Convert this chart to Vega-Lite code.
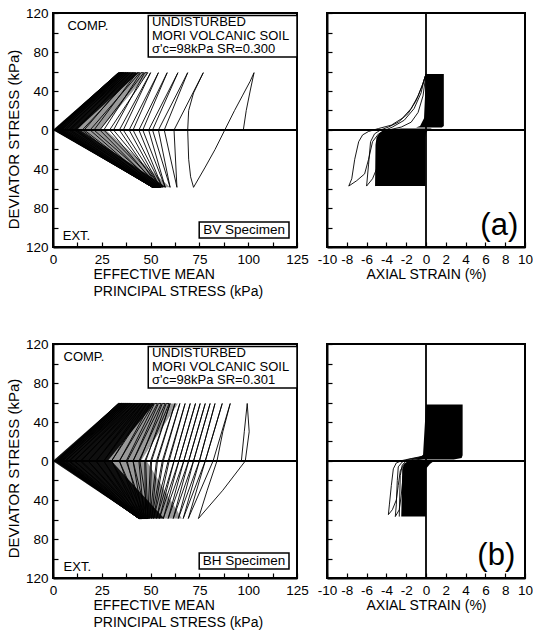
{
  "$schema": "https://vega.github.io/schema/vega-lite/v6.json",
  "padding": {"left": 5, "top": 5, "right": 0, "bottom": 0},
  "background": "white",
  "config": {
    "view": {"stroke": "black", "strokeWidth": 2},
    "font": "Liberation Sans",
    "axis": {
      "grid": false, "domainColor": "black", "domainWidth": 2,
      "tickColor": "black", "tickWidth": 1.2, "tickSize": -5,
      "labelPadding": 10, "labelFont": "Liberation Sans", "labelFontSize": 13.5, "labelColor": "black",
      "titleFont": "Liberation Sans", "titleFontSize": 14, "titleFontWeight": "normal", "titleColor": "black",
      "labelOverlap": false, "labelFlush": false
    }
  },
  "datasets": {
    "coreA": [
      {"g": "u", "q": 0, "lo": 0, "hi": 12}, {"g": "u", "q": 58.8, "lo": 33.5, "hi": 44},
      {"g": "l", "q": -58.8, "lo": 51, "hi": 58}, {"g": "l", "q": 0, "lo": 0, "hi": 14}
    ],
    "haloA": [
      {"g": "u", "q": 0, "lo": 0, "hi": 24}, {"g": "u", "q": 58.8, "lo": 33.5, "hi": 49},
      {"g": "l", "q": -58.8, "lo": 51, "hi": 60}, {"g": "l", "q": 0, "lo": 0, "hi": 27}
    ],
    "coreB": [
      {"g": "u", "q": 0, "lo": 0, "hi": 28}, {"g": "u", "q": 59, "lo": 33.5, "hi": 52},
      {"g": "l", "q": -59, "lo": 44, "hi": 57}, {"g": "l", "q": 0, "lo": 0, "hi": 30}
    ],
    "haloB": [
      {"g": "u", "q": 0, "lo": 0, "hi": 45}, {"g": "u", "q": 59, "lo": 33.5, "hi": 64},
      {"g": "l", "q": -59, "lo": 44, "hi": 66}, {"g": "l", "q": 0, "lo": 0, "hi": 48}
    ],
    "pathA": [
      {"p":97.5,"q":0},{"p":99,"q":20},{"p":101,"q":40},{"p":103,"q":58.8},
      {"p":101,"q":50},{"p":97,"q":35},{"p":93,"q":20},{"p":88,"q":0},{"p":83,"q":-20},{"p":78,"q":-38},{"p":72,"q":-58.8},
      {"p":70.5,"q":-48},{"p":69.5,"q":-30},{"p":69,"q":0},{"p":69.5,"q":20},{"p":72,"q":38},{"p":77,"q":58.8},
      {"p":62,"q":0},{"p":63.5,"q":-58.8},{"p":57,"q":0},{"p":69,"q":58.8},
      {"p":54,"q":0},{"p":60,"q":-58.8},{"p":51,"q":0},{"p":64,"q":58.8},
      {"p":49,"q":0},{"p":57.5,"q":-58.8},{"p":46,"q":0},{"p":58.5,"q":58.8},
      {"p":44,"q":0},{"p":56,"q":-58.8},{"p":41,"q":0},{"p":54,"q":58.8},
      {"p":39,"q":0},{"p":55,"q":-58.8},{"p":36,"q":0},{"p":50,"q":58.8},
      {"p":34,"q":0},{"p":54,"q":-58.8},{"p":55.5,"q":-58.8},{"p":31,"q":0},{"p":47,"q":58.8},{"p":48.5,"q":58.8},
      {"p":29,"q":0},{"p":53.5,"q":-58.8},{"p":55,"q":-58.8},{"p":26,"q":0},{"p":45,"q":58.8},{"p":46.5,"q":58.8},
      {"p":24,"q":0},{"p":53,"q":-58.8},{"p":54.5,"q":-58.8},{"p":21,"q":0},{"p":43,"q":58.8},{"p":44.5,"q":58.8},
      {"p":19,"q":0},{"p":52.5,"q":-58.8},{"p":54,"q":-58.8},{"p":16,"q":0},{"p":41,"q":58.8},{"p":42.5,"q":58.8},
      {"p":15,"q":0},{"p":52,"q":-58.8},{"p":53.5,"q":-58.8},{"p":12,"q":0},{"p":39.5,"q":58.8},{"p":41,"q":58.8},
      {"p":11,"q":0},{"p":52,"q":-58.8},{"p":53.5,"q":-58.8},{"p":9,"q":0},{"p":38,"q":58.8},{"p":39.5,"q":58.8},
      {"p":8,"q":0},{"p":51.5,"q":-58.8},{"p":53,"q":-58.8},{"p":6.5,"q":0},{"p":37,"q":58.8},{"p":38.5,"q":58.8},
      {"p":5.5,"q":0},{"p":51.5,"q":-58.8},{"p":53,"q":-58.8},{"p":4.5,"q":0},{"p":36,"q":58.8},{"p":37.5,"q":58.8},
      {"p":4,"q":0},{"p":51,"q":-58.8},{"p":52.5,"q":-58.8},{"p":3.5,"q":0},{"p":35,"q":58.8},{"p":36.5,"q":58.8},
      {"p":3,"q":0},{"p":51,"q":-58.8},{"p":52.5,"q":-58.8},{"p":2.5,"q":0},{"p":34.5,"q":58.8},{"p":36,"q":58.8},
      {"p":2,"q":0},{"p":51,"q":-58.8},{"p":52.5,"q":-58.8},{"p":1.5,"q":0},{"p":34,"q":58.8},{"p":35.5,"q":58.8},
      {"p":1.5,"q":0},{"p":51,"q":-58.8},{"p":52.5,"q":-58.8},{"p":1,"q":0},{"p":33.5,"q":58.8},{"p":35,"q":58.8},
      {"p":1,"q":0},{"p":51,"q":-58.8},{"p":52,"q":-58.8},{"p":0.8,"q":0},{"p":33.5,"q":58.8}
    ],
    "pathB": [
      {"p":96.5,"q":0},{"p":98,"q":30},{"p":99.5,"q":59},{"p":100.5,"q":30},{"p":98.5,"q":0},{"p":87,"q":-30},{"p":74.5,"q":-59},
      {"p":79,"q":-30},{"p":84,"q":0},{"p":87,"q":30},{"p":90.8,"q":59},
      {"p":82,"q":0},{"p":69.3,"q":-59},{"p":78,"q":0},{"p":86.7,"q":59},
      {"p":78,"q":0},{"p":66.7,"q":-59},{"p":75,"q":0},{"p":83,"q":59},
      {"p":75,"q":0},{"p":64.2,"q":-59},{"p":72,"q":0},{"p":80.5,"q":59},
      {"p":72,"q":0},{"p":61.6,"q":-59},{"p":69.5,"q":0},{"p":78,"q":59},
      {"p":69.5,"q":0},{"p":59,"q":-59},{"p":67,"q":0},{"p":75.4,"q":59},
      {"p":67,"q":0},{"p":56.5,"q":-59},{"p":64.5,"q":0},{"p":73,"q":59},
      {"p":64.5,"q":0},{"p":54.5,"q":-59},{"p":62,"q":0},{"p":70.3,"q":59},
      {"p":62,"q":0},{"p":53,"q":-59},{"p":59.5,"q":0},{"p":67.7,"q":59},
      {"p":59,"q":0},{"p":51.5,"q":-59},{"p":56.5,"q":0},{"p":65,"q":59},
      {"p":56,"q":0},{"p":50.5,"q":-59},{"p":53.5,"q":0},{"p":62.5,"q":59},
      {"p":53,"q":0},{"p":49.5,"q":-59},{"p":50.5,"q":0},{"p":60,"q":59},
      {"p":50,"q":0},{"p":48.5,"q":-59},{"p":47.5,"q":0},{"p":58,"q":59},{"p":59.5,"q":59},
      {"p":47,"q":0},{"p":47.5,"q":-59},{"p":49,"q":-59},{"p":44.5,"q":0},{"p":56,"q":59},{"p":57.5,"q":59},
      {"p":44,"q":0},{"p":46.7,"q":-59},{"p":48.2,"q":-59},{"p":41,"q":0},{"p":54,"q":59},{"p":55.5,"q":59},
      {"p":41,"q":0},{"p":46,"q":-59},{"p":47.5,"q":-59},{"p":37.5,"q":0},{"p":52,"q":59},{"p":53.5,"q":59},
      {"p":38,"q":0},{"p":45.5,"q":-59},{"p":47,"q":-59},{"p":34,"q":0},{"p":50,"q":59},{"p":51.5,"q":59},
      {"p":34,"q":0},{"p":45,"q":-59},{"p":46.5,"q":-59},{"p":30,"q":0},{"p":48,"q":59},{"p":49.5,"q":59},
      {"p":30,"q":0},{"p":44.5,"q":-59},{"p":46,"q":-59},{"p":26,"q":0},{"p":46.5,"q":59},{"p":48,"q":59},
      {"p":26,"q":0},{"p":44.2,"q":-59},{"p":45.7,"q":-59},{"p":22,"q":0},{"p":45,"q":59},{"p":46.5,"q":59},
      {"p":22,"q":0},{"p":44,"q":-59},{"p":45.5,"q":-59},{"p":18,"q":0},{"p":43.5,"q":59},{"p":45,"q":59},
      {"p":18,"q":0},{"p":44,"q":-59},{"p":45.5,"q":-59},{"p":14.5,"q":0},{"p":42,"q":59},{"p":43.5,"q":59},
      {"p":14,"q":0},{"p":44,"q":-59},{"p":45.5,"q":-59},{"p":11,"q":0},{"p":40.5,"q":59},{"p":42,"q":59},
      {"p":11,"q":0},{"p":44,"q":-59},{"p":45.5,"q":-59},{"p":8.5,"q":0},{"p":39,"q":59},{"p":40.5,"q":59},
      {"p":8,"q":0},{"p":44,"q":-59},{"p":45.5,"q":-59},{"p":6.5,"q":0},{"p":38,"q":59},{"p":39.5,"q":59},
      {"p":6,"q":0},{"p":44,"q":-59},{"p":45.5,"q":-59},{"p":5,"q":0},{"p":37,"q":59},{"p":38.5,"q":59},
      {"p":4.5,"q":0},{"p":44,"q":-59},{"p":45.5,"q":-59},{"p":4,"q":0},{"p":36,"q":59},{"p":37.5,"q":59},
      {"p":3.5,"q":0},{"p":44,"q":-59},{"p":45.5,"q":-59},{"p":3,"q":0},{"p":35,"q":59},{"p":36.5,"q":59},
      {"p":2.5,"q":0},{"p":44,"q":-59},{"p":45.5,"q":-59},{"p":2.5,"q":0},{"p":34,"q":59},{"p":35.5,"q":59},
      {"p":2,"q":0},{"p":44,"q":-59},{"p":45.5,"q":-59},{"p":2,"q":0},{"p":33.5,"q":59},{"p":35,"q":59},
      {"p":1.5,"q":0},{"p":44,"q":-59},{"p":45,"q":-59},{"p":1.5,"q":0},{"p":33.5,"q":59}
    ],
    "blkA": [
      {"g":"u","q":2.5,"lo":-1.0,"hi":1.6},{"g":"u","q":4,"lo":-0.6,"hi":1.8},{"g":"u","q":12,"lo":-0.2,"hi":1.8},{"g":"u","q":57.5,"lo":0,"hi":1.8},
      {"g":"l","q":-57.5,"lo":-5.1,"hi":-0.05},{"g":"l","q":-15,"lo":-5.1,"hi":-0.05},{"g":"l","q":-8,"lo":-5.0,"hi":-0.05},{"g":"l","q":-3,"lo":-4.7,"hi":0},{"g":"l","q":0,"lo":-4.3,"hi":0.2},{"g":"l","q":1.5,"lo":-2.5,"hi":0.6}
    ],
    "blkB": [
      {"g":"u","q":1.5,"lo":-1.5,"hi":2.8},{"g":"u","q":3,"lo":-0.8,"hi":3.6},{"g":"u","q":6,"lo":-0.3,"hi":3.7},{"g":"u","q":58,"lo":0,"hi":3.7},
      {"g":"l","q":-57,"lo":-2.5,"hi":0},{"g":"l","q":-8,"lo":-2.4,"hi":0},{"g":"l","q":-3,"lo":-2.2,"hi":0.4},{"g":"l","q":0,"lo":-1.8,"hi":0.8}
    ],
    "ssA": [
      {"g":1,"s":0,"q":57.5},{"g":1,"s":-0.3,"q":48},{"g":1,"s":-0.8,"q":35},{"g":1,"s":-1.5,"q":22},{"g":1,"s":-2.4,"q":12},{"g":1,"s":-3.5,"q":5},{"g":1,"s":-4.8,"q":1.5},{"g":1,"s":-5.8,"q":-1.5},{"g":1,"s":-6.4,"q":-5},{"g":1,"s":-6.8,"q":-12},{"g":1,"s":-7.2,"q":-30},{"g":1,"s":-7.5,"q":-50},{"g":1,"s":-7.8,"q":-57.5},{"g":1,"s":-7.0,"q":-52},{"g":1,"s":-6.2,"q":-45},{"g":1,"s":-5.8,"q":-30},{"g":1,"s":-5.4,"q":-12},{"g":1,"s":-4.8,"q":-4},{"g":1,"s":-3.8,"q":0},{"g":1,"s":-2.5,"q":3},{"g":1,"s":-1.5,"q":8},{"g":1,"s":-0.8,"q":18},{"g":1,"s":-0.3,"q":35},{"g":1,"s":0,"q":57.5},
      {"g":2,"s":0,"q":57.5},{"g":2,"s":-0.4,"q":45},{"g":2,"s":-1.0,"q":30},{"g":2,"s":-1.8,"q":17},{"g":2,"s":-2.8,"q":8},{"g":2,"s":-3.8,"q":3},{"g":2,"s":-4.6,"q":0},{"g":2,"s":-5.2,"q":-4},{"g":2,"s":-5.6,"q":-12},{"g":2,"s":-5.8,"q":-35},{"g":2,"s":-6.0,"q":-57.5},{"g":2,"s":-5.4,"q":-50},{"g":2,"s":-5.0,"q":-40},{"g":2,"s":-4.9,"q":-20},
      {"g":3,"s":-0.1,"q":55},{"g":3,"s":-0.5,"q":38},{"g":3,"s":-1.2,"q":22},{"g":3,"s":-2.2,"q":10},{"g":3,"s":-3.4,"q":3},{"g":3,"s":-4.3,"q":-1},{"g":3,"s":-4.8,"q":-6},{"g":3,"s":-5.0,"q":-15},{"g":3,"s":-5.1,"q":-57.5}
    ],
    "ssB": [
      {"g":1,"s":0.2,"q":8},{"g":1,"s":-0.5,"q":4.5},{"g":1,"s":-1.5,"q":2.5},{"g":1,"s":-2.4,"q":0.5},{"g":1,"s":-3.0,"q":-2},{"g":1,"s":-3.3,"q":-8},{"g":1,"s":-3.5,"q":-25},{"g":1,"s":-3.7,"q":-45},{"g":1,"s":-3.8,"q":-55},{"g":1,"s":-3.4,"q":-50},{"g":1,"s":-3.0,"q":-40},{"g":1,"s":-2.8,"q":-25},{"g":1,"s":-2.6,"q":-10},{"g":1,"s":-2.2,"q":-3},{"g":1,"s":-1.4,"q":0.5},{"g":1,"s":-0.5,"q":2},{"g":1,"s":0.3,"q":4},
      {"g":2,"s":0.1,"q":6},{"g":2,"s":-0.8,"q":3.5},{"g":2,"s":-1.8,"q":1.5},{"g":2,"s":-2.4,"q":-1},{"g":2,"s":-2.8,"q":-6},{"g":2,"s":-2.9,"q":-20},{"g":2,"s":-3.0,"q":-45},{"g":2,"s":-3.1,"q":-57},{"g":2,"s":-2.7,"q":-50},{"g":2,"s":-2.5,"q":-35},{"g":2,"s":-2.3,"q":-15},
      {"g":3,"s":0,"q":5},{"g":3,"s":-1.0,"q":2.5},{"g":3,"s":-2.0,"q":0},{"g":3,"s":-2.4,"q":-4},{"g":3,"s":-2.6,"q":-15},{"g":3,"s":-2.7,"q":-57}
    ]
  },
  "vconcat": [
    {
      "hconcat": [
        {
          "width": 244, "height": 234,
          "layer": [
            {
              "data": {"name": "haloA"},
              "mark": {"type": "area", "orient": "horizontal", "color": "black", "opacity": 0.4},
              "encoding": {
                "y": {"field": "q", "type": "quantitative", "scale": {"domain": [-120, 120], "nice": false, "zero": false},
                  "axis": {"values": [-120,-100,-80,-60,-40,-20,0,20,40,60,80,100,120], "tickCount": 100, "labelExpr": "datum.value % 40 == 0 ? format(abs(datum.value), 'd') : ''", "labelOverlap": false, "labelFlush": false, "title": "DEVIATOR STRESS (kPa)", "titleFontSize": 15, "titlePadding": 4, "titleY": 126}},
                "x": {"field": "lo", "type": "quantitative", "scale": {"domain": [0, 125], "nice": false, "zero": false},
                  "axis": {"values": [0,12.5,25,37.5,50,62.5,75,87.5,100,112.5,125], "tickCount": 100, "labelExpr": "datum.value % 25 == 0 ? format(datum.value, 'd') : ''", "labelOverlap": false, "labelFlush": false, "title": ["EFFECTIVE MEAN", "PRINCIPAL STRESS (kPa)"], "titleAnchor": "start", "titleAlign": "left", "titleX": 40, "titleY": 27.5, "titleBaseline": "middle", "titleLineHeight": 17}},
                "x2": {"field": "hi"},
                "detail": {"field": "g"}
              }
            },
            {
              "data": {"name": "coreA"},
              "mark": {"type": "area", "orient": "horizontal", "color": "black", "opacity": 0.9},
              "encoding": {
                "y": {"field": "q", "type": "quantitative", "scale": {"domain": [-120, 120], "nice": false, "zero": false}},
                "x": {"field": "lo", "type": "quantitative", "scale": {"domain": [0, 125], "nice": false, "zero": false}},
                "x2": {"field": "hi"},
                "detail": {"field": "g"}
              }
            },
            {
              "data": {"name": "pathA"},
              "mark": {"type": "line", "color": "black", "strokeWidth": 0.9},
              "encoding": {
                "x": {"field": "p", "type": "quantitative", "scale": {"domain": [0, 125], "nice": false, "zero": false}},
                "y": {"field": "q", "type": "quantitative", "scale": {"domain": [-120, 120], "nice": false, "zero": false}},
                "order": {"value": null}
              }
            },
            {
              "data": {"values": [{}]},
              "mark": {"type": "rule", "color": "black", "strokeWidth": 2},
              "encoding": {"y": {"datum": 0, "type": "quantitative", "scale": {"domain": [-120, 120], "nice": false, "zero": false}}}
            },
            {
              "data": {"values": [{"x1": 48.8, "x2": 125, "y1": 75, "y2": 117.5}, {"x1": 74.9, "x2": 120.9, "y1": -94.4, "y2": -110.8}]},
              "mark": {"type": "rect", "fill": "white", "stroke": "black", "strokeWidth": 1.5},
              "encoding": {
                "x": {"field": "x1", "type": "quantitative", "scale": {"domain": [0, 125], "nice": false, "zero": false}},
                "x2": {"field": "x2"},
                "y": {"field": "y1", "type": "quantitative", "scale": {"domain": [-120, 120], "nice": false, "zero": false}},
                "y2": {"field": "y2"}
              }
            },
            {
              "data": {"values": [
                {"p": 7.4, "q": 107, "t": "COMP."},
                {"p": 5, "q": -108.5, "t": "EXT."},
                {"p": 50.7, "q": 110.3, "t": "UNDISTURBED"},
                {"p": 50.7, "q": 96.6, "t": "MORI VOLCANIC SOIL"},
                {"p": 50.7, "q": 83, "t": "σ'c=98kPa SR=0.300"}
              ]},
              "mark": {"type": "text", "align": "left", "baseline": "middle", "fontSize": 13, "font": "Liberation Sans", "color": "black"},
              "encoding": {
                "x": {"field": "p", "type": "quantitative", "scale": {"domain": [0, 125], "nice": false, "zero": false}},
                "y": {"field": "q", "type": "quantitative", "scale": {"domain": [-120, 120], "nice": false, "zero": false}},
                "text": {"field": "t"}
              }
            },
            {
              "data": {"values": [{"p": 97.9, "q": -102.6, "t": "BV Specimen"}]},
              "mark": {"type": "text", "align": "center", "baseline": "middle", "fontSize": 13.5, "font": "Liberation Sans", "color": "black"},
              "encoding": {
                "x": {"field": "p", "type": "quantitative", "scale": {"domain": [0, 125], "nice": false, "zero": false}},
                "y": {"field": "q", "type": "quantitative", "scale": {"domain": [-120, 120], "nice": false, "zero": false}},
                "text": {"field": "t"}
              }
            }
          ]
        },
        {
          "width": 198, "height": 234,
          "layer": [
            {
              "data": {"name": "blkA"},
              "mark": {"type": "area", "orient": "horizontal", "color": "black"},
              "encoding": {
                "y": {"field": "q", "type": "quantitative", "scale": {"domain": [-120, 120], "nice": false, "zero": false},
                  "axis": {"values": [-120,-100,-80,-60,-40,-20,0,20,40,60,80,100,120], "tickCount": 100, "labels": false, "title": ""}},
                "x": {"field": "lo", "type": "quantitative", "scale": {"domain": [-10, 10], "nice": false, "zero": false},
                  "axis": {"values": [-10,-8,-6,-4,-2,0,2,4,6,8,10], "tickCount": 100, "labelExpr": "'' + datum.value", "labelOverlap": false, "labelFlush": false, "title": "AXIAL STRAIN (%)", "titleY": 27.5, "titleBaseline": "middle"}},
                "x2": {"field": "hi"},
                "detail": {"field": "g"}
              }
            },
            {
              "data": {"name": "ssA"},
              "mark": {"type": "line", "color": "black", "strokeWidth": 0.9},
              "encoding": {
                "x": {"field": "s", "type": "quantitative", "scale": {"domain": [-10, 10], "nice": false, "zero": false}},
                "y": {"field": "q", "type": "quantitative", "scale": {"domain": [-120, 120], "nice": false, "zero": false}},
                "detail": {"field": "g"},
                "order": {"value": null}
              }
            },
            {
              "data": {"values": [{}]},
              "mark": {"type": "rule", "color": "black", "strokeWidth": 1.8},
              "encoding": {"y": {"datum": 0, "type": "quantitative", "scale": {"domain": [-120, 120], "nice": false, "zero": false}}}
            },
            {
              "data": {"values": [{}]},
              "mark": {"type": "rule", "color": "black", "strokeWidth": 1.8},
              "encoding": {"x": {"datum": 0, "type": "quantitative", "scale": {"domain": [-10, 10], "nice": false, "zero": false}}}
            },
            {
              "data": {"values": [{"s": 7.4, "q": -98.5, "t": "(a)"}]},
              "mark": {"type": "text", "align": "center", "baseline": "middle", "fontSize": 31, "font": "Liberation Sans", "color": "black"},
              "encoding": {
                "x": {"field": "s", "type": "quantitative", "scale": {"domain": [-10, 10], "nice": false, "zero": false}},
                "y": {"field": "q", "type": "quantitative", "scale": {"domain": [-120, 120], "nice": false, "zero": false}},
                "text": {"field": "t"}
              }
            }
          ]
        }
      ],
      "spacing": 30,
      "bounds": "flush"
    },
    {
      "hconcat": [
        {
          "width": 244, "height": 234,
          "layer": [
            {
              "data": {"name": "haloB"},
              "mark": {"type": "area", "orient": "horizontal", "color": "black", "opacity": 0.4},
              "encoding": {
                "y": {"field": "q", "type": "quantitative", "scale": {"domain": [-120, 120], "nice": false, "zero": false},
                  "axis": {"values": [-120,-100,-80,-60,-40,-20,0,20,40,60,80,100,120], "tickCount": 100, "labelExpr": "datum.value % 40 == 0 ? format(abs(datum.value), 'd') : ''", "labelOverlap": false, "labelFlush": false, "title": "DEVIATOR STRESS (kPa)", "titleFontSize": 15, "titlePadding": 4, "titleY": 124}},
                "x": {"field": "lo", "type": "quantitative", "scale": {"domain": [0, 125], "nice": false, "zero": false},
                  "axis": {"values": [0,12.5,25,37.5,50,62.5,75,87.5,100,112.5,125], "tickCount": 100, "labelExpr": "datum.value % 25 == 0 ? format(datum.value, 'd') : ''", "labelOverlap": false, "labelFlush": false, "title": ["EFFECTIVE MEAN", "PRINCIPAL STRESS (kPa)"], "titleAnchor": "start", "titleAlign": "left", "titleX": 40, "titleY": 27.5, "titleBaseline": "middle", "titleLineHeight": 17}},
                "x2": {"field": "hi"},
                "detail": {"field": "g"}
              }
            },
            {
              "data": {"name": "coreB"},
              "mark": {"type": "area", "orient": "horizontal", "color": "black", "opacity": 0.9},
              "encoding": {
                "y": {"field": "q", "type": "quantitative", "scale": {"domain": [-120, 120], "nice": false, "zero": false}},
                "x": {"field": "lo", "type": "quantitative", "scale": {"domain": [0, 125], "nice": false, "zero": false}},
                "x2": {"field": "hi"},
                "detail": {"field": "g"}
              }
            },
            {
              "data": {"name": "pathB"},
              "mark": {"type": "line", "color": "black", "strokeWidth": 0.9},
              "encoding": {
                "x": {"field": "p", "type": "quantitative", "scale": {"domain": [0, 125], "nice": false, "zero": false}},
                "y": {"field": "q", "type": "quantitative", "scale": {"domain": [-120, 120], "nice": false, "zero": false}},
                "order": {"value": null}
              }
            },
            {
              "data": {"values": [{}]},
              "mark": {"type": "rule", "color": "black", "strokeWidth": 2},
              "encoding": {"y": {"datum": 0, "type": "quantitative", "scale": {"domain": [-120, 120], "nice": false, "zero": false}}}
            },
            {
              "data": {"values": [{"x1": 48.8, "x2": 125, "y1": 75, "y2": 117.5}, {"x1": 74.9, "x2": 120.9, "y1": -94.4, "y2": -110.8}]},
              "mark": {"type": "rect", "fill": "white", "stroke": "black", "strokeWidth": 1.5},
              "encoding": {
                "x": {"field": "x1", "type": "quantitative", "scale": {"domain": [0, 125], "nice": false, "zero": false}},
                "x2": {"field": "x2"},
                "y": {"field": "y1", "type": "quantitative", "scale": {"domain": [-120, 120], "nice": false, "zero": false}},
                "y2": {"field": "y2"}
              }
            },
            {
              "data": {"values": [
                {"p": 5.4, "q": 107, "t": "COMP."},
                {"p": 5.4, "q": -108.5, "t": "EXT."},
                {"p": 50.7, "q": 110.3, "t": "UNDISTURBED"},
                {"p": 50.7, "q": 96.6, "t": "MORI VOLCANIC SOIL"},
                {"p": 50.7, "q": 83, "t": "σ'c=98kPa SR=0.301"}
              ]},
              "mark": {"type": "text", "align": "left", "baseline": "middle", "fontSize": 13, "font": "Liberation Sans", "color": "black"},
              "encoding": {
                "x": {"field": "p", "type": "quantitative", "scale": {"domain": [0, 125], "nice": false, "zero": false}},
                "y": {"field": "q", "type": "quantitative", "scale": {"domain": [-120, 120], "nice": false, "zero": false}},
                "text": {"field": "t"}
              }
            },
            {
              "data": {"values": [{"p": 97.9, "q": -102.6, "t": "BH Specimen"}]},
              "mark": {"type": "text", "align": "center", "baseline": "middle", "fontSize": 13.5, "font": "Liberation Sans", "color": "black"},
              "encoding": {
                "x": {"field": "p", "type": "quantitative", "scale": {"domain": [0, 125], "nice": false, "zero": false}},
                "y": {"field": "q", "type": "quantitative", "scale": {"domain": [-120, 120], "nice": false, "zero": false}},
                "text": {"field": "t"}
              }
            }
          ]
        },
        {
          "width": 198, "height": 234,
          "layer": [
            {
              "data": {"name": "blkB"},
              "mark": {"type": "area", "orient": "horizontal", "color": "black"},
              "encoding": {
                "y": {"field": "q", "type": "quantitative", "scale": {"domain": [-120, 120], "nice": false, "zero": false},
                  "axis": {"values": [-120,-100,-80,-60,-40,-20,0,20,40,60,80,100,120], "tickCount": 100, "labels": false, "title": ""}},
                "x": {"field": "lo", "type": "quantitative", "scale": {"domain": [-10, 10], "nice": false, "zero": false},
                  "axis": {"values": [-10,-8,-6,-4,-2,0,2,4,6,8,10], "tickCount": 100, "labelExpr": "'' + datum.value", "labelOverlap": false, "labelFlush": false, "title": "AXIAL STRAIN (%)", "titleY": 27.5, "titleBaseline": "middle"}},
                "x2": {"field": "hi"},
                "detail": {"field": "g"}
              }
            },
            {
              "data": {"name": "ssB"},
              "mark": {"type": "line", "color": "black", "strokeWidth": 0.9},
              "encoding": {
                "x": {"field": "s", "type": "quantitative", "scale": {"domain": [-10, 10], "nice": false, "zero": false}},
                "y": {"field": "q", "type": "quantitative", "scale": {"domain": [-120, 120], "nice": false, "zero": false}},
                "detail": {"field": "g"},
                "order": {"value": null}
              }
            },
            {
              "data": {"values": [{}]},
              "mark": {"type": "rule", "color": "black", "strokeWidth": 1.8},
              "encoding": {"y": {"datum": 0, "type": "quantitative", "scale": {"domain": [-120, 120], "nice": false, "zero": false}}}
            },
            {
              "data": {"values": [{}]},
              "mark": {"type": "rule", "color": "black", "strokeWidth": 1.8},
              "encoding": {"x": {"datum": 0, "type": "quantitative", "scale": {"domain": [-10, 10], "nice": false, "zero": false}}}
            },
            {
              "data": {"values": [{"s": 7.1, "q": -97.7, "t": "(b)"}]},
              "mark": {"type": "text", "align": "center", "baseline": "middle", "fontSize": 31, "font": "Liberation Sans", "color": "black"},
              "encoding": {
                "x": {"field": "s", "type": "quantitative", "scale": {"domain": [-10, 10], "nice": false, "zero": false}},
                "y": {"field": "q", "type": "quantitative", "scale": {"domain": [-120, 120], "nice": false, "zero": false}},
                "text": {"field": "t"}
              }
            }
          ]
        }
      ],
      "spacing": 30,
      "bounds": "flush"
    }
  ],
  "spacing": 36
}
